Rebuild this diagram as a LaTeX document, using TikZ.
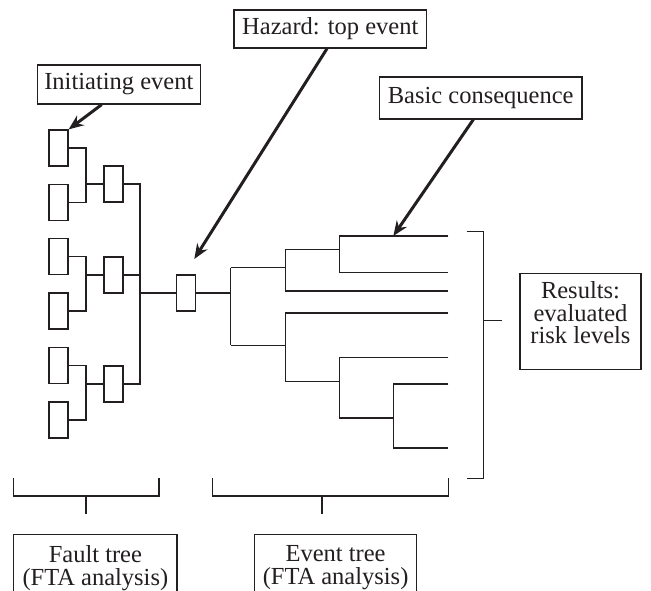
\documentclass[tikz,border=0pt]{standalone}
\usepackage{fontspec}
\setmainfont{Liberation Serif}
\usetikzlibrary{arrows.meta}
\definecolor{ink}{RGB}{35,31,32}

\begin{document}
\begin{tikzpicture}[x=1pt,y=1pt,line width=1.2pt,color=ink]
\tikzstyle{every node}+=[inner sep=0pt,font=\fontsize{24.5}{22.5}\selectfont]
\tikzstyle{gate}=[draw,minimum width=19pt,minimum height=36pt]
\tikzstyle{txtbox}=[draw,align=center,inner xsep=6pt]
\tikzstyle{ptr}=[line width=3pt,-{Stealth[length=15pt,width=12pt]}]
\useasboundingbox (0,0) rectangle (651,-591);
\clip (0,0) rectangle (651,-591);
\node[txtbox,minimum width=163pt,minimum height=39pt] (init) at (118.8,-84.5) {Initiating event};
\node[txtbox,minimum width=192.7pt,minimum height=38pt] (haz) at (330.3,-29) {Hazard: top event};
\node[txtbox,minimum width=202.7pt,minimum height=42pt] (bas) at (480.7,-98) {Basic consequence};
\node[txtbox,minimum width=121pt,anchor=north,inner ysep=8.8pt] (res) at (580.5,-272.5) {Results:\\evaluated\\risk levels\rule[-17pt]{0pt}{17pt}};
\node[txtbox,minimum width=163.25pt,anchor=north,inner ysep=11pt] (ft) at (95.4,-534) {Fault tree\\(FTA analysis)\rule[-12pt]{0pt}{12pt}};
\node[txtbox,minimum width=162pt,anchor=north,inner ysep=11pt] (et) at (335.6,-534) {Event tree\\(FTA analysis)\rule[-12pt]{0pt}{12pt}};
\node[gate] (l1) at (58.5,-148) {};
\node[gate] (l2) at (58.5,-202.5) {};
\node[gate] (l3) at (58.5,-256.5) {};
\node[gate] (l4) at (58.5,-311) {};
\node[gate] (l5) at (58.5,-365.5) {};
\node[gate] (l6) at (58.5,-420) {};
\node[gate] (m1) at (113.5,-184) {};
\node[gate] (m2) at (113.5,-275) {};
\node[gate] (m3) at (113.5,-384) {};
\node[gate] (te) at (186,-293) {};
\coordinate (j1) at (86,-184);
\coordinate (j2) at (86,-275);
\coordinate (j3) at (86,-384);
\coordinate (k) at (140,-293);
\coordinate (r1) at (230.7,-267.7);
\coordinate (r2) at (230.7,-345.3);
\coordinate (u1) at (285.3,-267.7);
\coordinate (u2) at (339.7,-249.3);
\coordinate (d1) at (285.3,-345.3);
\coordinate (d2) at (339.7,-381.3);
\coordinate (d3) at (393.3,-418);
\coordinate (o1) at (448.3,-236);
\coordinate (o2) at (448.3,-272.5);
\coordinate (o3) at (448.3,-291);
\coordinate (o4) at (448.3,-313);
\coordinate (o5) at (448.3,-357.5);
\coordinate (o6) at (448.3,-384);
\coordinate (o7) at (448.3,-448);
\coordinate (hz) at (194.3,-259);
\draw (l1) -| (j1) |- (l2);
\draw (l3) -| (j2) |- (l4);
\draw (l5) -| (j3) |- (l6);
\draw (j1) -- (m1);
\draw (j2) -- (m2);
\draw (j3) -- (m3);
\draw (m1) -| (k) |- (m3);
\draw (m2) -- (m2 -| k);
\draw (k) -- (te);
\draw (te) -- (te -| r1);
\draw (r1) -- (r2);
\draw (r1) -- (u1);
\draw (r2) -- (d1);
\draw (o1) -| (u2) |- (o2);
\draw (u2) -| (u1) |- (o3);
\draw (o4) -| (d1) |- (d2);
\draw (o5) -| (d2) |- (d3);
\draw (o6) -| (d3) |- (o7);
\draw (466.7,-231.7) -| (483.3,-478.3) -- (466.7,-478.3);
\draw (483.3,-320.8) -- (502.3,-320.8);
\draw (13.3,-478.3) |- (159,-496) -- (159,-478.3);
\draw (86,-496) -- (86,-514);
\draw (212.7,-478.3) |- (448.3,-496) -- (448.3,-478.3);
\draw (322,-496) -- (322,-514);
\draw[ptr] ([xshift=-17.1pt]init.south) -- (l1.north east);
\draw[ptr] ([xshift=-3.3pt]haz.south) -- (hz);
\draw[ptr] ([xshift=-7.4pt]bas.south) -- (o1 -| d3);
\end{tikzpicture}
\end{document}
